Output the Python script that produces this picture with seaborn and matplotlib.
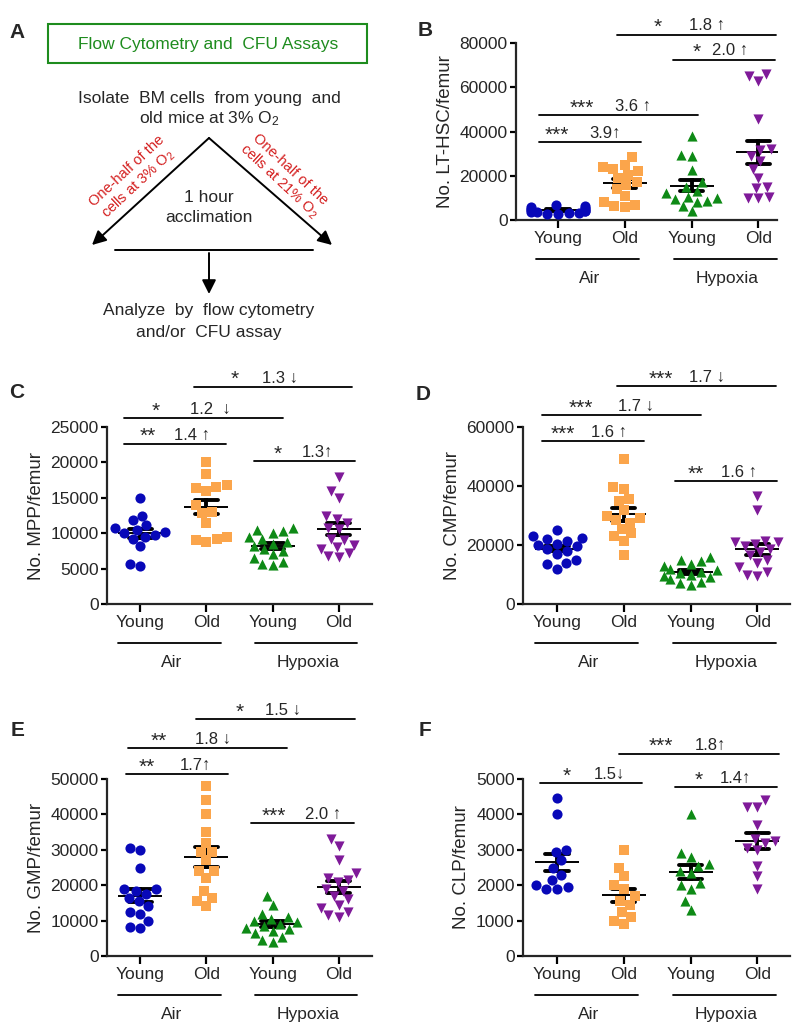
import numpy as np
import pandas as pd
import matplotlib
matplotlib.use("Agg")
import matplotlib.pyplot as plt
import matplotlib.patches as patches
import seaborn as sns

# --- data (cells per femur) ---
groups = ["Young Air", "Old Air", "Young Hypoxia", "Old Hypoxia"]
tick_labels = ["Young", "Old", "Young", "Old"]
conditions = ["Air", "Hypoxia"]

lthsc = [
    [2500, 3000, 3200, 3500, 3800, 4000, 4200, 4500, 4800, 5000, 5500, 6000, 6500, 7000, 2800],
    [28500, 25000, 24000, 23000, 22000, 20500, 19000, 17000, 16000, 14000, 11000, 8000, 6500, 6000, 7000],
    [38000, 29500, 29000, 22500, 17000, 15000, 13000, 12000, 10500, 10000, 9500, 8500, 8000, 6500, 4000],
    [65000, 66000, 63000, 45500, 32000, 31500, 29000, 26500, 23000, 19000, 15000, 14500, 10500, 10000, 10000],
]
mpp = [
    [15000, 12500, 11800, 11200, 10800, 10500, 10200, 10000, 9800, 9500, 9200, 8200, 5700, 5400],
    [20000, 18300, 16800, 16500, 16400, 16000, 14000, 13000, 12800, 11500, 9400, 9200, 9100, 8800],
    [10800, 10500, 10300, 10000, 9500, 9200, 8800, 8500, 8200, 7800, 7500, 7000, 6500, 6000, 5600, 5500],
    [18000, 16000, 15000, 12400, 12000, 11500, 10800, 10600, 9200, 9000, 8400, 8000, 7800, 7200, 6800, 6600],
]
cmp_ = [
    [25000, 23000, 22500, 22000, 21500, 20500, 20000, 19500, 18500, 18000, 17000, 15000, 14000, 13500, 12000],
    [49000, 39500, 39000, 35500, 35000, 32000, 30000, 29000, 28500, 27500, 25500, 24000, 23000, 21500, 16500],
    [16000, 15000, 14500, 13500, 13000, 12000, 11500, 11000, 10500, 10000, 9500, 9000, 8500, 7500, 7000, 6500],
    [36500, 32000, 21500, 21000, 21000, 20500, 19500, 18500, 17500, 16500, 15000, 14000, 12500, 11000, 10000, 9500],
]
gmp = [
    [30500, 30000, 25000, 19000, 18800, 18500, 17500, 16500, 15500, 14000, 12500, 12000, 10000, 8300, 8000],
    [48000, 44000, 40000, 35000, 32000, 29500, 29500, 27000, 24000, 24000, 22000, 18500, 16500, 15500, 14000],
    [17000, 14500, 12000, 11000, 10500, 10000, 9500, 9000, 8500, 8000, 7500, 7000, 6500, 5500, 4500, 4000],
    [33000, 31000, 27000, 23500, 22000, 21500, 21000, 19000, 18500, 17000, 16000, 14500, 13500, 12500, 11500, 11000],
]
clp = [
    [4450, 4000, 3000, 2950, 2700, 2500, 2300, 2150, 2000, 1950, 1900, 1900],
    [3000, 2500, 2250, 2000, 1900, 1700, 1550, 1450, 1250, 1100, 1000, 900],
    [4000, 2900, 2800, 2600, 2550, 2400, 2350, 2050, 2000, 1900, 1550, 1300],
    [4400, 4200, 4200, 3700, 3300, 3250, 3200, 3050, 3000, 2550, 2250, 1900],
]

# significance labels: stars and fold change per comparison
lthsc_stars = ["*", "*", "***", "***"]
lthsc_fold = ["1.8 \u2191", "2.0 \u2191", "3.6 \u2191", "3.9\u2191"]
mpp_stars = ["*", "*", "**", "*"]
mpp_fold = ["1.3 \u2193", "1.2  \u2193", "1.4 \u2191", "1.3\u2191"]
cmp_stars = ["***", "***", "***", "**"]
cmp_fold = ["1.7 \u2193", "1.7 \u2193", "1.6 \u2191", "1.6 \u2191"]
gmp_stars = ["*", "**", "**", "***"]
gmp_fold = ["1.5 \u2193", "1.8 \u2193", "1.7\u2191", "2.0 \u2191"]
clp_stars = ["***", "*", "*"]
clp_fold = ["1.8\u2191", "1.5\u2193", "1.4\u2191"]

# --- style ---
sns.set_theme(style="ticks")
plt.rcParams['font.family'] = ['Liberation Sans', 'DejaVu Sans']
plt.rcParams['mathtext.fontset'] = 'custom'
plt.rcParams['mathtext.rm'] = 'Liberation Sans'
plt.rcParams['mathtext.default'] = 'regular'
plt.rcParams['axes.linewidth'] = 1.6

colors = ["#0808b8", "#fba54b", "#0e8a16", "#7f1a99"]
markers = ["o", "s", "^", "v"]
W, H = 796, 1033


def rect(left, top, right, bottom):
    return [left / W, 1 - bottom / H, (right - left) / W, (bottom - top) / H]


def draw_panel(ax, values, ylabel, ymax, ystep, xlim, brackets, stars, folds):
    df = pd.DataFrame({
        "group": np.repeat(groups, [len(v) for v in values]),
        "value": np.concatenate(values),
    })
    ax.set_ylim(0, ymax)
    for g, c, m in zip(groups, colors, markers):
        sns.swarmplot(data=df[df["group"] == g], x="group", y="value", order=groups,
                      color=c, marker=m, size=7.3, linewidth=0, warn_thresh=1, ax=ax)
    sns.pointplot(data=df, x="group", y="value", order=groups, errorbar="se",
                  capsize=0.35, color="black", linestyle="none", marker="_",
                  markersize=32, markeredgewidth=1.4,
                  err_kws={"linewidth": 2.8}, ax=ax)
    ax.set_xlim(xlim)
    ax.set_ylim(0, ymax)
    ax.set_yticks(np.arange(0, ymax + 1, ystep))
    ax.set_xticks(range(4))
    ax.set_xticklabels(tick_labels)
    ax.set_xlabel("")
    ax.set_ylabel(ylabel, fontsize=13.5, labelpad=4)
    sns.despine(ax=ax)
    ax.tick_params(axis="y", length=4.5, width=1.6, labelsize=12.5, pad=1.5, color="black")
    ax.tick_params(axis="x", length=6, width=1.6, labelsize=12.5, pad=2, color="black")

    # Air / Hypoxia group lines below the axis
    trans = ax.get_xaxis_transform()
    for (x1, x2), name in zip([(-0.33, 1.22), (1.73, 3.28)], conditions):
        ax.plot([x1, x2], [-0.22, -0.22], transform=trans, color="black",
                lw=1.3, clip_on=False)
        ax.text((x1 + x2) / 2 + 0.03, -0.33, name, transform=trans,
                ha="center", va="center", fontsize=12.5)

    # significance brackets
    for (x1, x2, y, sx, fx), st, fd in zip(brackets, stars, folds):
        ax.plot([x1, x2], [y, y], color="black", lw=1.3, clip_on=False)
        ax.annotate(st, (sx, y), xytext=(0, 5), textcoords="offset points",
                    ha="center", va="center", fontsize=15,
                    annotation_clip=False)
        ax.annotate(fd, (fx, y), xytext=(0, 3), textcoords="offset points",
                    ha="center", va="baseline", fontsize=12,
                    annotation_clip=False)


fig = plt.figure(figsize=(W / 100, H / 100), dpi=100)

# --- panel A: schematic, drawn in pixel coordinates ---
axA = fig.add_axes([0, 0, 1, 1])
axA.set_xlim(0, W)
axA.set_ylim(H, 0)
axA.axis("off")
green = "#1e8c1e"
red = "#d42020"
axA.add_patch(patches.Rectangle((48, 24), 319, 39, fill=False, ec=green, lw=1.5))
axA.text(208, 44, "Flow Cytometry and  CFU Assays", color=green, fontsize=12.5,
         ha="center", va="center")
axA.text(209, 98, "Isolate  BM cells  from young  and", fontsize=12.5,
         ha="center", va="center")
axA.text(209, 119, "old mice at 3% O$_2$", fontsize=12.5, ha="center", va="center")
arrow = dict(arrowstyle="-|>,head_length=0.6,head_width=0.3", color="black",
             lw=1.4, shrinkA=0, shrinkB=0, mutation_scale=14)
axA.annotate("", xy=(92, 245), xytext=(209, 138), arrowprops=arrow)
axA.annotate("", xy=(332, 245), xytext=(209, 138), arrowprops=arrow)
axA.plot([115, 313], [250, 250], color="black", lw=1.4)
axA.annotate("", xy=(209, 294), xytext=(209, 253), arrowprops=arrow)
axA.text(209, 197, "1 hour", fontsize=12.5, ha="center", va="center")
axA.text(209, 218, "acclimation", fontsize=12.5, ha="center", va="center")
axA.text(133, 178, "One-half of the\ncells at 3% O$_2$", color=red, fontsize=10.5,
         rotation=43, ha="center", va="center", linespacing=1.05)
axA.text(284, 176, "One-half of the\ncells at 21% O$_2$", color=red, fontsize=10.5,
         rotation=-43, ha="center", va="center", linespacing=1.05)
axA.text(209, 311, "Analyze  by  flow cytometry", fontsize=12.5, ha="center", va="center")
axA.text(209, 332, "and/or  CFU assay", fontsize=12.5, ha="center", va="center")

for letter, (x, y) in zip("ABCDEF", [(17, 33), (425, 30), (17, 393),
                                    (423, 395), (18, 731), (425, 731)]):
    axA.text(x, y, letter, fontsize=15, fontweight="bold", ha="center", va="center")

# --- scatter panels ---
axB = fig.add_axes(rect(516, 43, 777, 220))
draw_panel(axB, lthsc, "No. LT-HSC/femur", 80000, 20000, (-0.63, 3.28),
           [(0.885, 3.27, 83800, 1.50, 2.23), (1.72, 3.25, 72500, 2.07, 2.58),
            (-0.29, 2.10, 47400, 0.35, 1.13), (-0.29, 1.25, 35300, -0.02, 0.70)],
           lthsc_stars, lthsc_fold)

axC = fig.add_axes(rect(107, 427, 372, 604))
draw_panel(axC, mpp, "No. MPP/femur", 25000, 5000, (-0.5, 3.5),
           [(0.81, 3.20, 30700, 1.42, 2.11), (-0.25, 2.15, 26300, 0.24, 1.06),
            (-0.25, 1.29, 22650, 0.12, 0.79), (1.72, 3.25, 20160, 2.07, 2.68)],
           mpp_stars, mpp_fold)

axD = fig.add_axes(rect(523, 427, 790, 604))
draw_panel(axD, cmp_, "No. CMP/femur", 60000, 20000, (-0.51, 3.49),
           [(0.90, 3.28, 73800, 1.55, 2.24), (-0.23, 2.15, 64000, 0.35, 1.18),
            (-0.23, 1.31, 55200, 0.09, 0.78), (1.76, 3.30, 41600, 2.08, 2.73)],
           cmp_stars, cmp_fold)

axE = fig.add_axes(rect(107, 779, 372, 956))
draw_panel(axE, gmp, "No. GMP/femur", 50000, 10000, (-0.5, 3.5),
           [(0.84, 3.24, 67000, 1.51, 2.15), (-0.19, 2.21, 58800, 0.28, 1.10),
            (-0.22, 1.33, 51300, 0.10, 0.84), (1.68, 3.23, 37600, 2.02, 2.76)],
           gmp_stars, gmp_fold)

axF = fig.add_axes(rect(523, 779, 790, 956))
draw_panel(axF, clp, "No. CLP/femur", 5000, 1000, (-0.51, 3.49),
           [(0.925, 3.32, 5715, 1.55, 2.30), (-0.26, 1.28, 4890, 0.14, 0.78),
            (1.76, 3.30, 4775, 2.12, 2.68)],
           clp_stars, clp_fold)

fig.savefig("out.png", dpi=100)
plt.close(fig)
